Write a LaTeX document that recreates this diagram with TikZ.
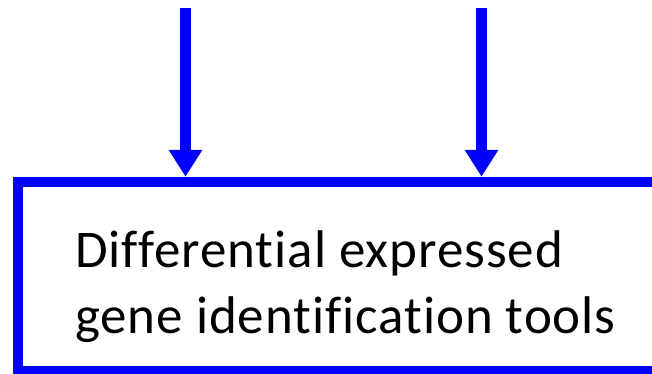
\documentclass[tikz,border=0pt]{standalone}
\usepackage{fontspec}
\setmainfont{Carlito}[RawFeature={-liga,-dlig,-clig}, LetterSpace=1.8]
\usetikzlibrary{arrows.meta}
\definecolor{flowblue}{RGB}{0,0,255}
\tikzset{
  toolbox/.style={draw=flowblue, line width=10.5pt, minimum width=642pt, minimum height=189pt, inner sep=0pt},
  feed/.style={draw=flowblue, line width=10.5pt, -{Triangle[width=32pt,length=27pt]}},
  boxtext/.style={anchor=base west, inner sep=0pt, font=\fontsize{53pt}{64pt}\selectfont}
}
\begin{document}
\begin{tikzpicture}[x=1pt,y=-1pt]
  \useasboundingbox (0,0) rectangle (652,373);
  \clip (0,0) rectangle (652,373);
  \node[toolbox] (box) at (339,276.5) {};
  \coordinate (srcA) at (185.5,8);
  \coordinate (srcB) at (481.5,8);
  \draw[feed] (srcA) -- (srcA |- box.north);
  \draw[feed] (srcB) -- (srcB |- box.north);
  \node[boxtext] (lineA) at (75,267) {Differential expressed};
  \node[boxtext] (lineB) at (75,333) {gene identification tools};
\end{tikzpicture}
\end{document}
